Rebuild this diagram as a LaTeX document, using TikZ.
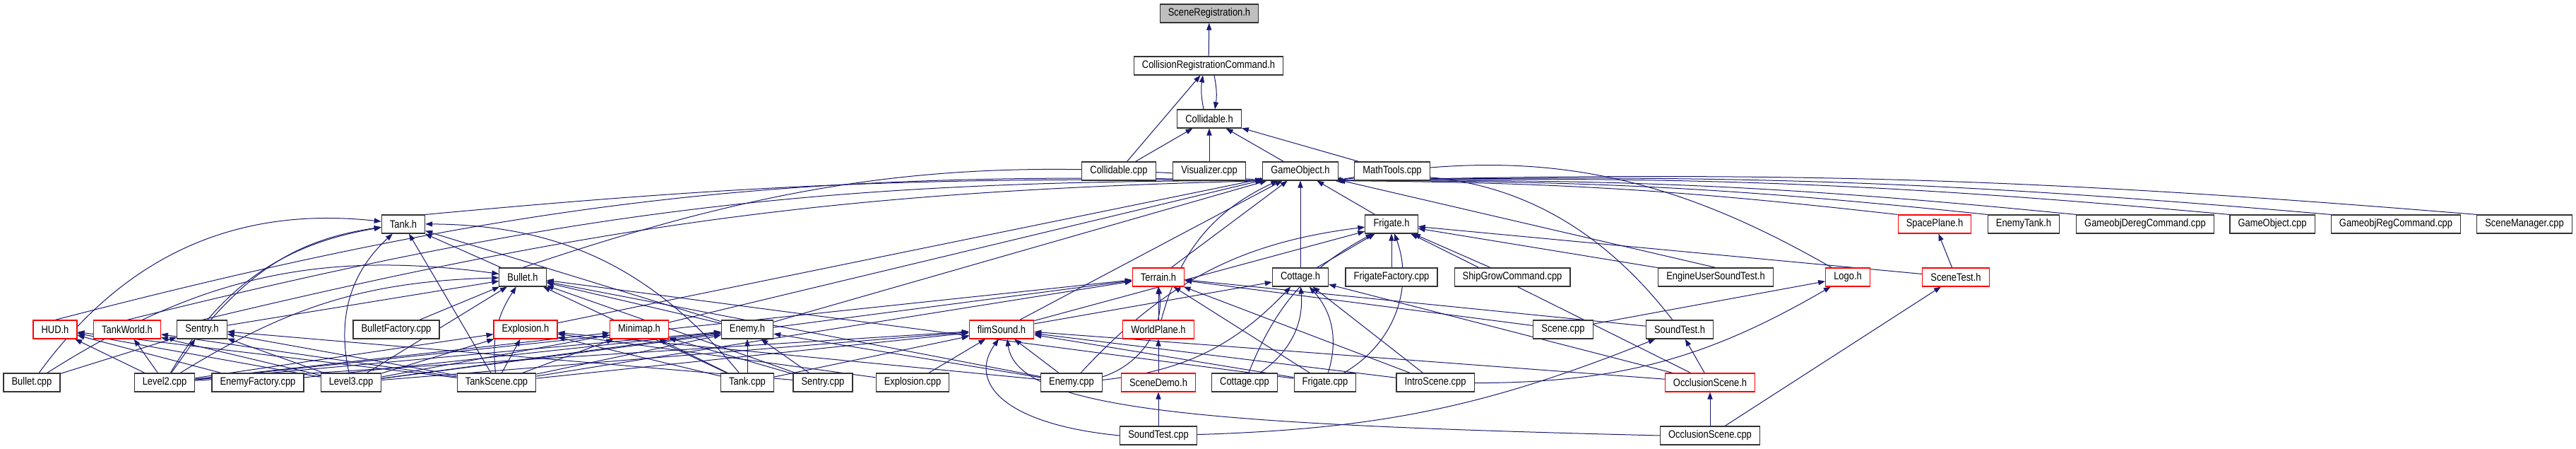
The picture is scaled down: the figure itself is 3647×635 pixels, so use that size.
\documentclass[tikz,border=0pt]{standalone}
\usepackage{fontspec}
\setmainfont{Liberation Sans}[FakeStretch=0.85]
\usetikzlibrary{arrows.meta, backgrounds}
\definecolor{dgEdge}{RGB}{25,25,112}
\definecolor{dgRoot}{RGB}{191,191,191}
\definecolor{dgTrunc}{RGB}{255,0,0}

\begin{document}
\begin{tikzpicture}[x=0.5pt, y=-0.5pt,
    file/.style={draw=black!80, line width=0.55pt, fill=white, font=\fontsize{7.6}{8}\selectfont, minimum height=13pt, inner ysep=0pt, inner xsep=5.8pt},
    trunc/.style={file, draw=dgTrunc},
    root/.style={file, fill=dgRoot},
    dep/.style={draw=dgEdge, line width=0.5pt, -{Triangle[length=5pt, width=3.6pt]}}
  ]
    \useasboundingbox (0,0) rectangle (3647,635);
    % rows 0-3
    \node[root] (sr) at (1712,19) {SceneRegistration.h};
    \node[file] (crc) at (1711,93) {CollisionRegistrationCommand.h};
    \node[file] (colh) at (1712,168) {Collidable.h};
    \node[file] (colcpp) at (1584,242) {Collidable.cpp};
    \node[file] (vis) at (1712,242) {Visualizer.cpp};
    \node[file] (goh) at (1841,242) {GameObject.h};
    \node[file] (math) at (1971,242) {MathTools.cpp};
    % row 4
    \node[file] (tankh) at (571,317) {Tank.h};
    \node[file] (frigateh) at (1970,317) {Frigate.h};
    \node[trunc] (spaceplane) at (2739,317) {SpacePlane.h};
    \node[file] (enemytank) at (2865,317) {EnemyTank.h};
    \node[file] (dereg) at (3037,317) {GameobjDeregCommand.cpp};
    \node[file] (gocpp) at (3217,317) {GameObject.cpp};
    \node[file] (reg) at (3392,317) {GameobjRegCommand.cpp};
    \node[file] (scenemgr) at (3574,317) {SceneManager.cpp};
    % row 5
    \node[file] (bulleth) at (740,392) {Bullet.h};
    \node[trunc] (terrain) at (1640,392) {Terrain.h};
    \node[file] (cottageh) at (1841,392) {Cottage.h};
    \node[file] (frigatefac) at (1970,392) {FrigateFactory.cpp};
    \node[file] (shipgrow) at (2141,392) {ShipGrowCommand.cpp};
    \node[file] (eust) at (2429,392) {EngineUserSoundTest.h};
    \node[trunc] (logo) at (2616,392) {Logo.h};
    \node[trunc] (scenetest) at (2769,392) {SceneTest.h};
    % row 6
    \node[trunc] (hud) at (78,466) {HUD.h};
    \node[trunc] (tankworld) at (180,466) {TankWorld.h};
    \node[file] (sentryh) at (286,466) {Sentry.h};
    \node[file] (bulletfac) at (561,466) {BulletFactory.cpp};
    \node[trunc] (explh) at (744,466) {Explosion.h};
    \node[trunc] (minimap) at (905,466) {Minimap.h};
    \node[file] (enemyh) at (1058,466) {Enemy.h};
    \node[trunc] (flim) at (1418,466) {flimSound.h};
    \node[trunc] (worldplane) at (1640,466) {WorldPlane.h};
    \node[file] (scenecpp) at (2213,466) {Scene.cpp};
    \node[file] (soundtesth) at (2378,466) {SoundTest.h};
    % row 7
    \node[file] (bulletcpp) at (45,541) {Bullet.cpp};
    \node[file] (level2) at (233,541) {Level2.cpp};
    \node[file] (enemyfac) at (365,541) {EnemyFactory.cpp};
    \node[file] (level3) at (497,541) {Level3.cpp};
    \node[file] (tankscene) at (703,541) {TankScene.cpp};
    \node[file] (tankcpp) at (1058,541) {Tank.cpp};
    \node[file] (sentrycpp) at (1165,541) {Sentry.cpp};
    \node[file] (explcpp) at (1292,541) {Explosion.cpp};
    \node[file] (enemycpp) at (1517,541) {Enemy.cpp};
    \node[trunc] (scenedemo) at (1640,541) {SceneDemo.h};
    \node[file] (cottagecpp) at (1762,541) {Cottage.cpp};
    \node[file] (frigatecpp) at (1876,541) {Frigate.cpp};
    \node[file] (intro) at (2032,541) {IntroScene.cpp};
    \node[trunc] (occh) at (2421,541) {OcclusionScene.h};
    % row 8
    \node[file] (soundtestcpp) at (1640,616) {SoundTest.cpp};
    \node[file] (occcpp) at (2421,616) {OcclusionScene.cpp};

    \begin{scope}[on background layer]
    % collision part
    \draw[dep] (crc) -- (sr);
    \draw[dep] ([xshift=-4pt]colh.north) to[bend left=10] ([xshift=-4pt]crc.south);
    \draw[dep] ([xshift=4pt]crc.south) to[bend left=10] ([xshift=4pt]colh.north);
    \draw[dep] (colcpp) -- (crc);
    \draw[dep] (colcpp) -- (colh);
    \draw[dep] (vis) -- (colh);
    \draw[dep] (goh) -- (colh);
    \draw[dep] (math) -- (colh);
    % GameObject.h
    \draw[dep] (tankh.north east) to[bend left=3] ([xshift=2pt]goh.south west);
    \draw[dep] (bulleth.north) to[bend left=12] ([xshift=3pt]goh.south west);
    \draw[dep] (hud.north) to[bend left=8] ([xshift=2pt]goh.south west);
    \draw[dep] (tankworld.north) to[bend left=7] ([xshift=2pt]goh.south west);
    \draw[dep] (sentryh.north) to[bend left=6] ([xshift=3pt]goh.south west);
    \draw[dep] (explh) -- (goh);
    \draw[dep] (minimap) -- (goh);
    \draw[dep] (enemyh) -- (goh);
    \draw[dep] (flim) -- (goh);
    \draw[dep] (terrain) -- (goh);
    \draw[dep] (worldplane) to[bend left=25] (goh);
    \draw[dep] (cottageh) -- (goh);
    \draw[dep] (frigateh) -- (goh);
    \draw[dep] (eust.north) -- (goh);
    \draw[dep] (logo) to[bend right=20] ([xshift=-3pt]goh.south east);
    \draw[dep] (soundtesth) to[bend right=30] ([xshift=-3pt]goh.south east);
    \draw[dep] (spaceplane.north west) to[bend right=3] ([xshift=-2pt]goh.south east);
    \draw[dep] (enemytank.north west) to[bend right=3] ([xshift=-2pt]goh.south east);
    \draw[dep] (dereg.north west) to[bend right=3] ([xshift=-2pt]goh.south east);
    \draw[dep] (gocpp.north west) to[bend right=3] ([xshift=-2pt]goh.south east);
    \draw[dep] (reg.north west) to[bend right=3] ([xshift=-2pt]goh.south east);
    \draw[dep] (scenemgr.north west) to[bend right=3] ([xshift=-2pt]goh.south east);
    % Tank.h
    \draw[dep] (sentryh) to[bend left=20] (tankh);
    \draw[dep] (bulleth) -- (tankh);
    \draw[dep] (enemyh) -- (tankh);
    \draw[dep] (level2) to[bend left=25] (tankh);
    \draw[dep] (level3) to[bend left=30] (tankh);
    \draw[dep] (tankscene) -- (tankh);
    \draw[dep] (tankcpp) to[bend right=25] (tankh);
    \draw[dep] (bulletcpp) to[bend left=30] (tankh);
    % Bullet.h
    \draw[dep] (sentryh) -- (bulleth);
    \draw[dep] (bulletfac) -- (bulleth);
    \draw[dep] (tankscene) to[bend left=20] (bulleth);
    \draw[dep] (tankcpp) -- (bulleth);
    \draw[dep] (sentrycpp) -- (bulleth);
    \draw[dep] (enemyh) -- (bulleth);
    \draw[dep] (level2) to[bend left=15] (bulleth);
    \draw[dep] (bulletcpp) to[bend left=20] (bulleth);
    \draw[dep] (level3) -- (bulleth);
    \draw[dep] (frigatecpp) -- (bulleth);
    \draw[dep] (enemycpp) -- (bulleth);
    % Frigate.h
    \draw[dep] (cottageh) -- (frigateh);
    \draw[dep] (frigatefac) -- (frigateh);
    \draw[dep] (shipgrow) -- (frigateh);
    \draw[dep] (eust) -- (frigateh);
    \draw[dep] (scenetest) -- (frigateh);
    \draw[dep] (frigatecpp) to[bend right=40] (frigateh);
    \draw[dep] (occh) -- (frigateh);
    \draw[dep] (enemycpp) to[bend left=20] (frigateh);
    \draw[dep] (flim) -- (frigateh);
    \draw[dep] (cottagecpp) to[bend left=20] (frigateh);
    % Terrain.h
    \draw[dep] (worldplane) -- (terrain);
    \draw[dep] (enemycpp) to[bend right=40] (terrain);
    \draw[dep] (scenecpp) -- (terrain);
    \draw[dep] (soundtesth) -- (terrain);
    \draw[dep] (tankscene) -- (terrain);
    \draw[dep] (level3) -- (terrain);
    \draw[dep] (level2) -- (terrain);
    \draw[dep] (frigatecpp) -- (terrain);
    \draw[dep] (intro) -- (terrain);
    % Cottage.h
    \draw[dep] (flim) -- (cottageh);
    \draw[dep] (occh) -- (cottageh);
    \draw[dep] (frigatecpp) to[bend right=30] (cottageh);
    \draw[dep] (cottagecpp) to[bend right=30] (cottageh);
    \draw[dep] (enemycpp) to[bend right=20] (cottageh);
    \draw[dep] (intro) -- (cottageh);
    % right group
    \draw[dep] (scenetest) -- (spaceplane);
    \draw[dep] (scenecpp) -- (logo);
    \draw[dep] (intro) to[bend right=15] (logo);
    \draw[dep] (occcpp) -- (scenetest);
    \draw[dep] (occh) -- (soundtesth);
    \draw[dep] (soundtestcpp) to[bend right=10] (soundtesth);
    \draw[dep] (occcpp) -- (occh);
    % row 6 headers
    \draw[dep] (level2) -- (hud);
    \draw[dep] (level3) -- (hud);
    \draw[dep] (tankscene) -- (hud);
    \draw[dep] (enemyfac) -- (hud);
    \draw[dep] (level2) -- (tankworld);
    \draw[dep] (level3) -- (tankworld);
    \draw[dep] (tankscene) -- (tankworld);
    \draw[dep] (level2) -- (sentryh);
    \draw[dep] (level3) -- (sentryh);
    \draw[dep] (tankscene) -- (sentryh);
    \draw[dep] (sentrycpp) -- (sentryh);
    \draw[dep] (bulletcpp) -- (sentryh);
    \draw[dep] (tankscene) -- (explh);
    \draw[dep] (level2) -- (explh);
    \draw[dep] (level3) -- (explh);
    \draw[dep] (explcpp) -- (explh);
    \draw[dep] (enemycpp) -- (explh);
    \draw[dep] (tankcpp) -- (explh);
    \draw[dep] (tankscene) -- (minimap);
    \draw[dep] (level2) -- (minimap);
    \draw[dep] (level3) -- (minimap);
    \draw[dep] (tankcpp) -- (minimap);
    \draw[dep] (sentrycpp) -- (minimap);
    \draw[dep] (level2) -- (enemyh);
    \draw[dep] (level3) -- (enemyh);
    \draw[dep] (tankscene) -- (enemyh);
    \draw[dep] (enemyfac) -- (enemyh);
    \draw[dep] (tankcpp) -- (enemyh);
    \draw[dep] (enemycpp) -- (enemyh);
    \draw[dep] (sentrycpp) -- (enemyh);
    % flimSound.h
    \draw[dep] (level2) -- (flim);
    \draw[dep] (level3) -- (flim);
    \draw[dep] (tankscene) -- (flim);
    \draw[dep] (explcpp) -- (flim);
    \draw[dep] (enemycpp) -- (flim);
    \draw[dep] (tankcpp) -- (flim);
    \draw[dep] (frigatecpp) -- (flim);
    \draw[dep] (intro) -- (flim);
    \draw[dep] (occh) -- (flim);
    \draw[dep] (soundtestcpp.west) .. controls (1420,600) and (1370,540) .. ([xshift=-2pt]flim.south);
    \draw[dep] (occcpp.west) .. controls (1700,600) and (1440,580) .. ([xshift=4pt]flim.south);
    % demo chain
    \draw[dep] (scenedemo) -- (worldplane);
    \draw[dep] (soundtestcpp) -- (scenedemo);
    \end{scope}
  \end{tikzpicture}
\end{document}
